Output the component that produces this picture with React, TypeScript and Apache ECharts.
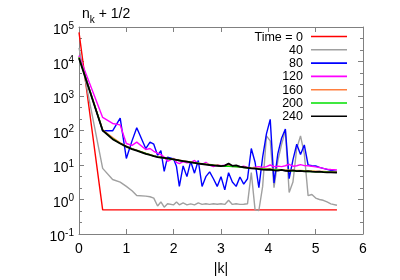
import React, { useEffect, useRef } from 'react';
import * as echarts from 'echarts';

const kValues = [0, 0.5, 0.71, 0.87, 1.0, 1.12, 1.22, 1.41, 1.5, 1.58, 1.66, 1.73, 1.8, 1.87, 2.0, 2.06, 2.12, 2.2, 2.28, 2.36, 2.44, 2.52, 2.6, 2.68, 2.76, 2.84, 2.92, 3.0, 3.08, 3.16, 3.24, 3.32, 3.4, 3.48, 3.56, 3.64, 3.72, 3.8, 3.88, 3.96, 4.04, 4.12, 4.2, 4.28, 4.36, 4.44, 4.52, 4.6, 4.68, 4.76, 4.84, 4.92, 5.0, 5.08, 5.16, 5.24, 5.32, 5.45];

const seriesNames = ['Time = 0', '40', '80', '120', '160', '200', '240'];

const t0 = [70000, 0.5, 0.5, 0.5, 0.5, 0.5, 0.5, 0.5, 0.5, 0.5, 0.5, 0.5, 0.5, 0.5, 0.5, 0.5, 0.5, 0.5, 0.5, 0.5, 0.5, 0.5, 0.5, 0.5, 0.5, 0.5, 0.5, 0.5, 0.5, 0.5, 0.5, 0.5, 0.5, 0.5, 0.5, 0.5, 0.5, 0.5, 0.5, 0.5, 0.5, 0.5, 0.5, 0.5, 0.5, 0.5, 0.5, 0.5, 0.5, 0.5, 0.5, 0.5, 0.5, 0.5, 0.5, 0.5, 0.5, 0.5];
const t40 = [25000, 8, 3.8, 3.2, 2.4, 1.8, 1.3, 1.25, 1.2, 1.1, 0.65, 0.85, 0.6, 0.75, 0.7, 0.85, 0.7, 0.8, 0.7, 0.75, 0.7, 0.8, 0.72, 0.75, 0.72, 0.75, 0.73, 0.75, 0.72, 0.95, 0.72, 0.75, 0.72, 0.73, 0.75, 6, 0.5, 0.48, 2.4, 70, 50, 2.2, 13, 40, 99, 1.6, 3.2, 30, 70, 21, 1.3, 1.4, 1.1, 1.0, 0.95, 0.85, 0.75, 0.68];
const t80 = [14000, 98, 98, 230, 15.5, 50, 120, 30, 46, 40, 19, 26, 6.5, 17, 15, 9, 2.4, 9.4, 4.6, 12.7, 5.8, 13.5, 2.4, 4.6, 6.3, 4, 2.4, 4.6, 1.9, 6, 3.2, 2.4, 4.5, 2.8, 4, 30, 12, 2.2, 17, 80, 210, 3, 21, 60, 110, 4, 14, 40, 20, 38, 10, 9.5, 9.4, 8.5, 8, 7.5, 7, 6.5];
const t120 = [15000, 240, 160, 145, 42, 37, 46, 28, 30, 25, 22, 20, 17, 12.7, 15.5, 12, 11, 12.5, 11.5, 12, 13.5, 11, 10.5, 12, 10, 9, 10, 9.5, 9.8, 10.5, 9, 9.3, 8.6, 9.2, 8.5, 8.2, 8.6, 9, 8.5, 9, 10, 9, 9.3, 9, 9.5, 10.5, 9.2, 9.5, 10.3, 9.6, 9.5, 9.2, 8.8, 8.5, 8, 7.6, 7.4, 7.2];
const t160 = [13500, 105, 62, 44, 35, 30, 27, 22, 20, 18.5, 17.5, 16.8, 16.2, 15.6, 14.7, 14.2, 13.8, 13.2, 12.7, 12.2, 11.7, 11.3, 10.9, 10.6, 10.3, 10, 9.8, 9.5, 9.3, 9.4, 9.1, 9.0, 8.8, 8.6, 8.5, 8.3, 8.2, 8.0, 7.9, 7.8, 7.6, 7.5, 7.4, 7.3, 7.2, 7.1, 7.0, 6.9, 6.9, 6.8, 6.7, 6.7, 6.6, 6.5, 6.5, 6.4, 6.4, 6.3];
const t200 = [13000, 102, 58, 42, 34, 29.5, 26.5, 21.5, 19.7, 18.2, 17.2, 16.5, 16, 15.4, 14.5, 14, 13.6, 13, 12.5, 12, 11.6, 11.2, 10.8, 10.5, 10.2, 9.9, 9.7, 9.4, 9.2, 9.2, 9.0, 8.9, 8.7, 8.5, 8.3, 8.1, 8.0, 7.8, 7.7, 7.5, 7.4, 7.3, 7.2, 7.1, 7.0, 6.9, 6.8, 6.7, 6.7, 6.6, 6.5, 6.5, 6.4, 6.3, 6.3, 6.2, 6.2, 6.1];
const t240 = [12500, 100, 56, 42, 34, 29, 26, 21, 19.5, 18, 17, 16.5, 16, 15.5, 14.5, 14, 13.5, 13, 12.5, 12, 11.5, 11, 10.7, 10.3, 10, 9.8, 9.5, 9.3, 9.6, 11, 9.5, 9.8, 9, 8.6, 8.3, 8, 7.8, 7.6, 7.3, 7.2, 7.4, 7, 6.9, 7.2, 6.8, 6.7, 7.0, 6.6, 6.8, 6.5, 6.6, 6.4, 6.3, 6.4, 6.2, 6.1, 6.1, 6.0];

const xTicks = [0, 1, 2, 3, 4, 5, 6];
const yMin = 0.1;
const yMax = 100000;

const allSeries = [t0, t40, t80, t120, t160, t200, t240];
const colors = ['#ff0000', '#a0a0a0', '#0000ff', '#ff00ff', '#ff7f3f', '#00e000', '#000000'];
const widths = [1.4, 1.4, 1.4, 1.4, 1.4, 1.4, 1.8];

const FONT = 'Liberation Sans, Arial, Helvetica, sans-serif';
const FRAME = '#808080';

export default function App() {
  const ref = useRef<HTMLDivElement>(null);
  useEffect(() => {
    const chart = echarts.init(ref.current as HTMLDivElement, null, { renderer: 'svg' });
    const axisCommon = {
      axisLine: { show: true, onZero: false, lineStyle: { color: FRAME, width: 1 } },
      axisTick: { show: true, inside: true, length: 5, lineStyle: { color: FRAME, width: 1 } },
      splitLine: { show: false },
    };
    const yRich = {
      b: { fontSize: 14, fontFamily: FONT, color: '#000', lineHeight: 18, verticalAlign: 'bottom' },
      s: { fontSize: 10, fontFamily: FONT, color: '#000', lineHeight: 18, verticalAlign: 'top', padding: [2, 0, 0, 0] },
    };
    const yLabel = (v: number) => {
      const e = Math.round(Math.log10(v));
      return `{b|10}{s|${e}}`;
    };
    const minorAxis = (pos: string) => ({
      type: 'value',
      min: Math.log10(yMin),
      max: Math.log10(yMax),
      interval: 1 / 3,
      position: pos,
      axisLine: { show: false, onZero: false },
      axisTick: { show: true, inside: true, length: 3, lineStyle: { color: FRAME, width: 1 } },
      axisLabel: { show: false },
      splitLine: { show: false },
    });
    const option: any = {
      animation: false,
      grid: { left: 79, right: 37, top: 27, bottom: 41, containLabel: false },
      legend: {
        orient: 'vertical',
        right: 53,
        top: 30,
        padding: 0,
        align: 'right',
        icon: 'rect',
        itemWidth: 36,
        itemHeight: 1.6,
        itemGap: 0.3,
        textStyle: { fontSize: 12.5, fontFamily: FONT, color: '#000', lineHeight: 13, padding: [0, 3, 0, 0] },
        data: seriesNames,
      },
      graphic: [
        {
          type: 'text',
          left: 82,
          top: 6,
          style: {
            text: '{a|n}{b|k}{a| + 1/2}',
            rich: {
              a: { fontSize: 14, fontFamily: FONT, fill: '#000', lineHeight: 18, verticalAlign: 'top' },
              b: { fontSize: 10, fontFamily: FONT, fill: '#000', lineHeight: 18, verticalAlign: 'bottom' },
            },
          },
        },
      ],
      xAxis: [
        {
          type: 'value',
          min: xTicks[0],
          max: xTicks[xTicks.length - 1],
          interval: 1,
          position: 'bottom',
          ...axisCommon,
          axisLabel: { color: '#000', fontSize: 14, fontFamily: FONT, margin: 7 },
          name: '|k|',
          nameLocation: 'middle',
          nameGap: 27,
          nameTextStyle: { color: '#000', fontSize: 14, fontFamily: FONT },
        },
        {
          type: 'value',
          min: xTicks[0],
          max: xTicks[xTicks.length - 1],
          interval: 1,
          position: 'top',
          ...axisCommon,
          axisLabel: { show: false },
        },
      ],
      yAxis: [
        {
          type: 'log',
          logBase: 10,
          min: yMin,
          max: yMax,
          interval: 1,
          position: 'left',
          ...axisCommon,
          axisLabel: { formatter: yLabel, rich: yRich, margin: 5 },
        },
        {
          type: 'log',
          logBase: 10,
          min: yMin,
          max: yMax,
          interval: 1,
          position: 'right',
          ...axisCommon,
          axisLabel: { show: false },
        },
        minorAxis('left'),
        minorAxis('right'),
      ],
      series: allSeries.map((vals, i) => ({
        name: seriesNames[i],
        type: 'line',
        xAxisIndex: 0,
        yAxisIndex: 0,
        symbol: 'none',
        showSymbol: false,
        color: colors[i],
        lineStyle: { color: colors[i], width: widths[i] },
        data: kValues.map((k, j) => [k, vals[j]]),
        z: 2 + i,
      })),
    };
    chart.setOption(option);
    return () => chart.dispose();
  }, []);
  return <div ref={ref} style={{ position: 'fixed', left: 0, top: 0, width: 400, height: 280 }} />;
}
